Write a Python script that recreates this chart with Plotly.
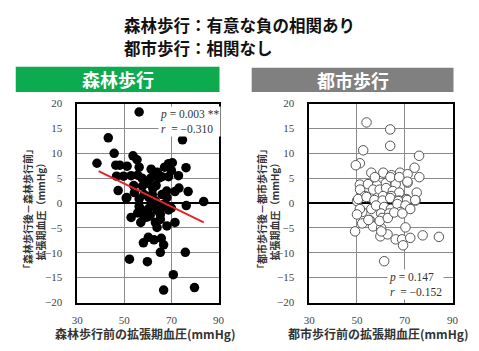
import plotly.graph_objects as go

# ---------------- data ----------------
forest_x = [56.3, 43.2, 74.7, 45.7, 53.7, 38.4, 46.4, 48.1, 51.2, 55.4, 56.3, 61.4, 67.1, 68.8,
            70.4, 76.2, 46.7, 49.7, 52.9, 55.7, 61.2, 62.6, 66.0, 68.8, 57.7, 47.4, 51.1, 54.3,
            58.4, 61.9, 66.0, 68.0, 71.5, 73.2, 77.1, 83.7, 50.8, 56.3, 60.5, 63.2, 68.1, 76.3,
            56.3, 60.5, 65.3, 68.8, 55.7, 59.1, 65.3, 52.9, 58.4, 59.8, 57.0, 63.2, 65.3, 71.5,
            63.9, 68.1, 60.2, 62.6, 65.7, 58.1, 66.7, 65.3, 75.9, 52.2, 59.8, 70.8, 66.7, 79.8,
            64.6, 62.1, 64.0, 60.0, 57.5, 63.5, 70.0, 73.0, 54.0, 62.0, 57.0, 66.5, 70.0, 61.0,
            64.0]
forest_y = [18.3, 13.1, 12.7, 10.0, 9.5, 8.0, 7.6, 7.6, 7.4, 8.7, 7.2, 6.8, 7.2, 7.9,
            8.1, 7.1, 5.4, 5.4, 5.5, 5.6, 5.0, 5.8, 5.3, 5.3, 3.4, 2.5, 1.1, 2.1,
            1.7, 1.7, 1.7, 2.4, 2.3, 3.0, 2.3, 0.3, 1.0, 0.8, 1.1, 0.4, 1.1, -0.5,
            -0.7, -1.0, -1.2, -1.4, -2.0, -1.8, -2.3, -2.9, -3.0, -2.8, -3.9, -3.9, -3.3, -3.9,
            -4.9, -4.6, -6.9, -7.4, -7.1, -8.0, -8.4, -9.9, -9.9, -11.3, -11.8, -14.4, -17.5, -17.0,
            5.0, 2.9, 6.2, 4.0, 5.0, 3.5, 6.5, 5.5, 3.5, -0.5, -1.2, -0.3, -1.0, -2.5,
            -1.5]

urban_x = [54.0, 63.9, 63.9, 52.6, 76.0, 51.2, 49.5, 74.1, 76.1, 56.0, 61.0, 64.4, 68.0, 71.2,
           51.2, 54.6, 58.4, 62.1, 66.2, 71.2, 75.0, 74.5, 57.5, 64.0, 67.7, 71.1, 51.3, 53.4,
           56.8, 59.5, 62.2, 65.0, 67.7, 60.9, 64.3, 57.5, 67.7, 70.7, 50.0, 50.5, 54.0, 57.3,
           60.7, 63.9, 67.3, 71.0, 74.4, 56.0, 58.0, 61.4, 64.2, 66.9, 70.3, 52.2, 60.1, 63.5,
           68.2, 72.3, 51.2, 49.2, 52.2, 55.3, 56.7, 60.1, 60.5, 59.8, 62.8, 66.2, 68.9, 69.3,
           72.3, 70.3, 77.5, 84.3, 61.4, 50.0, 54.8, 59.5, 62.9, 65.6, 69.0, 60.2]
urban_y = [16.2, 14.8, 11.5, 10.6, 9.5, 8.0, 7.6, 7.1, 5.2, 6.1, 6.1, 5.6, 6.1, 5.8,
           3.7, 3.8, 3.6, 4.0, 3.8, 4.1, 2.1, 0.5, 5.2, 5.2, 5.2, 4.3, 2.7, 1.4,
           2.7, 2.7, 3.0, 2.4, 2.1, 1.4, 1.4, 0.1, 0.5, 0.8, 0.4, 0.8, 1.2, 0.6,
           0.5, 1.0, 0.4, 0.6, 0.6, -1.2, -0.5, -0.8, -1.2, -0.2, -0.5, -1.8, -2.1, -2.1,
           -1.8, -1.2, -1.2, -5.7, -4.1, -3.4, -4.7, -5.0, -3.0, -6.7, -6.3, -7.3, -7.3, -8.5,
           -7.0, -4.9, -6.5, -6.8, -11.7, -2.3, -3.4, -3.6, -3.0, -1.9, -2.1, -5.7]

fit_x = [39.1, 83.7]
fit_y = [6.4, -3.9]

x_ticks = [30, 50, 70, 90]
y_ticks = [-20, -15, -10, -5, 0, 5, 10, 15, 20]
y_tick_text = ["\u221220", "\u221215", "\u221210", "\u22125", "0", "5", "10", "15", "20"]

forest_stats = "<i>p</i> = 0.003 **<br><i>r</i>  = \u22120.310"
urban_stats = "<i>p</i> = 0.147<br><i>r</i>  = \u22120.152"

# ---------------- figure ----------------
W, H = 479, 351
def px(x):
    return x / W
def py(y):
    return 1 - y / H

SERIF = "Liberation Serif, Times New Roman, serif"
JP = "Noto Sans CJK JP, sans-serif"

fig = go.Figure()
fig.add_trace(go.Scatter(x=forest_x, y=forest_y, mode="markers", xaxis="x", yaxis="y",
                         marker=dict(size=9.5, color="black", line=dict(width=0)),
                         showlegend=False))
fig.add_trace(go.Scatter(x=fit_x, y=fit_y, mode="lines", xaxis="x", yaxis="y",
                         line=dict(color="#E3242B", width=2), showlegend=False))
fig.add_trace(go.Scatter(x=urban_x, y=urban_y, mode="markers", xaxis="x2", yaxis="y2",
                         marker=dict(size=9.5, color="white", line=dict(width=1, color="#555555")),
                         showlegend=False))

axis_common = dict(
    showgrid=True, gridcolor="#8a8a8a", gridwidth=1,
    showline=True, linecolor="black", linewidth=1.5, mirror=True,
    ticks="", tickfont=dict(family=SERIF, size=11, color="#444444"),
)
xcommon = dict(axis_common, range=[30, 90], tickvals=x_ticks, zeroline=False,
               ticklabelstandoff=7)
ycommon = dict(axis_common, range=[-20, 20], tickvals=y_ticks, ticktext=y_tick_text,
               zeroline=True, zerolinecolor="black", zerolinewidth=1.6,
               ticklabelstandoff=11)

fig.update_layout(
    width=W, height=H,
    margin=dict(l=0, r=0, t=0, b=0),
    paper_bgcolor="white", plot_bgcolor="white",
    xaxis=dict(xcommon, domain=[px(73), px(218)], anchor="y"),
    yaxis=dict(ycommon, domain=[py(307), py(101)], anchor="x"),
    xaxis2=dict(xcommon, domain=[px(311), px(458)], anchor="y2"),
    yaxis2=dict(ycommon, domain=[py(307), py(101)], anchor="x2"),
)

shapes = [
    dict(type="rect", xref="paper", yref="paper", x0=px(10), x1=px(219), y0=py(89), y1=py(63),
         fillcolor="#0DAB4F", line=dict(width=0), layer="below"),
    dict(type="rect", xref="paper", yref="paper", x0=px(252), x1=px(459), y0=py(89), y1=py(64),
         fillcolor="#808080", line=dict(width=0), layer="below"),
]
fig.update_layout(shapes=shapes)

ann = []
# header
ann.append(dict(xref="paper", yref="paper", x=px(119), y=py(20), xanchor="left", yanchor="middle",
                text="<b>森林歩行：有意な負の相関あり</b>", showarrow=False,
                font=dict(family=JP, size=16.5, color="#111111")))
ann.append(dict(xref="paper", yref="paper", x=px(119), y=py(43), xanchor="left", yanchor="middle",
                text="<b>都市歩行：相関なし</b>", showarrow=False,
                font=dict(family=JP, size=16.5, color="#111111")))
# panel labels
ann.append(dict(xref="paper", yref="paper", x=px(114.5), y=py(76), xanchor="center", yanchor="middle",
                text="<b>森林歩行</b>", showarrow=False, font=dict(family=JP, size=18, color="white")))
ann.append(dict(xref="paper", yref="paper", x=px(355.5), y=py(76.5), xanchor="center", yanchor="middle",
                text="<b>都市歩行</b>", showarrow=False, font=dict(family=JP, size=18, color="white")))
# x titles
ann.append(dict(xref="paper", yref="paper", x=px(143), y=py(339), xanchor="center", yanchor="middle",
                text="<b>森林歩行前の拡張期血圧(mmHg)</b>", showarrow=False,
                font=dict(family=JP, size=12, color="#333333")))
ann.append(dict(xref="paper", yref="paper", x=px(382), y=py(339), xanchor="center", yanchor="middle",
                text="<b>都市歩行前の拡張期血圧(mmHg)</b>", showarrow=False,
                font=dict(family=JP, size=12, color="#333333")))
# y titles
ann.append(dict(xref="paper", yref="paper", x=px(29), y=py(210), xanchor="center", yanchor="middle",
                text="<b>「森林歩行後－森林歩行前」<br>拡張期血圧（mmHg）</b>", showarrow=False,
                textangle=-90, font=dict(family=JP, size=10, color="#333333")))
ann.append(dict(xref="paper", yref="paper", x=px(269), y=py(210), xanchor="center", yanchor="middle",
                text="<b>「都市歩行後－都市歩行前」<br>拡張期血圧（mmHg）</b>", showarrow=False,
                textangle=-90, font=dict(family=JP, size=10, color="#333333")))
# stats
ann.append(dict(xref="x", yref="y", x=64.3, y=16.4, xanchor="left", yanchor="middle",
                text=forest_stats, showarrow=False, align="left", bgcolor="white", borderpad=1,
                font=dict(family=SERIF, size=11.5, color="#333333")))
ann.append(dict(xref="x2", yref="y2", x=62.5, y=-16.3, xanchor="left", yanchor="middle",
                text=urban_stats, showarrow=False, align="left", bgcolor="white", borderpad=1,
                font=dict(family=SERIF, size=11.5, color="#333333")))
fig.update_layout(annotations=ann)

fig.write_html("out.html")
